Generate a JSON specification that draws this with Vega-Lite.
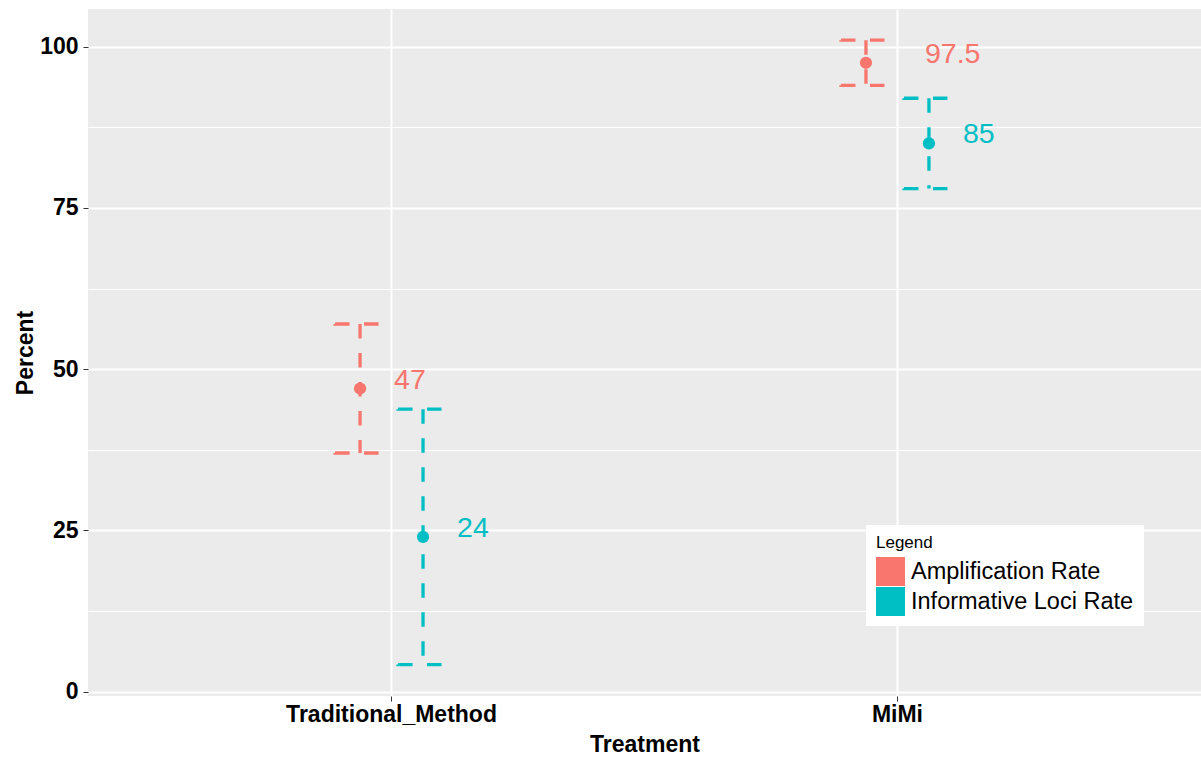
{
  "$schema": "https://vega.github.io/schema/vega-lite/v6.json",
  "autosize": "none",
  "width": 1113,
  "height": 687,
  "padding": {"left": 88, "top": 9, "right": 0, "bottom": 62},
  "background": "white",
  "config": {
    "font": "Liberation Sans",
    "view": {"fill": "#EBEBEB", "stroke": null}
  },
  "data": {
    "values": [
      {"Treatment": "Traditional_Method", "Series": "Amplification Rate", "value": 47, "lower": 37, "upper": 57, "label": "47"},
      {"Treatment": "Traditional_Method", "Series": "Informative Loci Rate", "value": 24, "lower": 4.2, "upper": 43.8, "label": "24"},
      {"Treatment": "MiMi", "Series": "Amplification Rate", "value": 97.5, "lower": 94, "upper": 101, "label": "97.5"},
      {"Treatment": "MiMi", "Series": "Informative Loci Rate", "value": 85, "lower": 78, "upper": 92, "label": "85"}
    ]
  },
  "encoding": {
    "x": {
      "field": "Treatment",
      "type": "nominal",
      "sort": ["Traditional_Method", "MiMi"],
      "scale": {"type": "band", "paddingInner": 0.751, "paddingOuter": 0.4755},
      "axis": {
        "title": "Treatment",
        "labelAngle": 0,
        "labelLimit": 500,
        "bandPosition": 0.5,
        "grid": true,
        "gridColor": "white",
        "gridWidth": 2,
        "domain": false,
        "ticks": true,
        "tickSize": 5,
        "tickColor": "#333333",
        "tickWidth": 1,
        "labelFontSize": 23,
        "labelFontWeight": "bold",
        "labelColor": "black",
        "labelPadding": 2.5,
        "titleFontSize": 23,
        "titleFontWeight": "bold",
        "titleColor": "black",
        "titlePadding": 7
      }
    },
    "xOffset": {
      "field": "Series",
      "type": "nominal",
      "scale": {"domain": ["Amplification Rate", "Informative Loci Rate"], "paddingInner": 0, "paddingOuter": 0}
    },
    "color": {
      "field": "Series",
      "type": "nominal",
      "scale": {"domain": ["Amplification Rate", "Informative Loci Rate"], "range": ["#F8766D", "#00BFC4"]},
      "legend": {
        "orient": "none",
        "legendX": 778,
        "legendY": 516,
        "title": "Legend",
        "titleFontSize": 17,
        "titleFontWeight": "normal",
        "titleColor": "black",
        "titlePadding": 5,
        "labelFontSize": 23.5,
        "labelColor": "black",
        "labelOffset": 6,
        "labelLimit": 400,
        "symbolType": "square",
        "symbolSize": 841,
        "symbolStrokeWidth": 0,
        "symbolOpacity": 1,
        "symbolDash": [],
        "fillColor": "white",
        "padding": 10,
        "rowPadding": 1,
        "encode": {
          "symbols": {
            "update": {
              "fill": {"scale": "color", "field": "value"},
              "stroke": {"value": "transparent"},
              "strokeWidth": {"value": 0},
              "opacity": {"value": 1}
            }
          }
        }
      }
    }
  },
  "layer": [
    {
      "mark": {"type": "rule", "strokeWidth": 3.3, "strokeDash": [14.5, 14.5], "opacity": 1},
      "encoding": {
        "y": {
          "field": "upper",
          "type": "quantitative",
          "title": "Percent",
          "scale": {"domain": [-0.67, 105.84], "nice": false, "zero": false},
          "axis": {
            "values": [0, 12.5, 25, 37.5, 50, 62.5, 75, 87.5, 100],
            "labelExpr": "datum.value % 25 === 0 ? format(datum.value, 'd') : ''",
            "labelOverlap": false,
            "grid": true,
            "gridColor": "white",
            "gridWidth": {"condition": {"test": "datum.value % 25 === 0", "value": 2}, "value": 1},
            "domain": false,
            "tickSize": 5,
            "tickColor": "#333333",
            "tickWidth": 1,
            "tickOpacity": {"condition": {"test": "datum.value % 25 === 0", "value": 1}, "value": 0},
            "labelFontSize": 23,
            "labelFontWeight": "bold",
            "labelColor": "black",
            "labelPadding": 5,
            "titleFontSize": 23,
            "titleFontWeight": "bold",
            "titleColor": "black",
            "titleBaseline": "alphabetic",
            "titlePadding": 7.6
          }
        },
        "y2": {"field": "lower"}
      }
    },
    {
      "mark": {"type": "tick", "size": 50, "thickness": 0.01, "filled": false, "strokeWidth": 3.3, "strokeDash": [14.5, 14.5, 14.5, 56.5], "opacity": 1},
      "encoding": {
        "y": {"field": "upper", "type": "quantitative", "title": "Percent", "scale": {"domain": [-0.67, 105.84], "nice": false, "zero": false}}
      }
    },
    {
      "mark": {"type": "tick", "size": 50, "thickness": 0.01, "filled": false, "strokeWidth": 3.3, "strokeDash": [14.5, 14.5, 14.5, 56.5], "opacity": 1},
      "encoding": {
        "y": {"field": "lower", "type": "quantitative", "title": "Percent", "scale": {"domain": [-0.67, 105.84], "nice": false, "zero": false}}
      }
    },
    {
      "mark": {"type": "point", "filled": true, "size": 150, "opacity": 1},
      "encoding": {
        "y": {"field": "value", "type": "quantitative", "title": "Percent", "scale": {"domain": [-0.67, 105.84], "nice": false, "zero": false}}
      }
    },
    {
      "transform": [{"filter": "length(datum.label) <= 2"}],
      "mark": {"type": "text", "align": "left", "baseline": "alphabetic", "dx": 34, "fontSize": 28.5},
      "encoding": {
        "y": {"field": "value", "type": "quantitative", "title": "Percent", "scale": {"domain": [-0.67, 105.84], "nice": false, "zero": false}},
        "text": {"field": "label"}
      }
    },
    {
      "transform": [{"filter": "length(datum.label) > 2"}],
      "mark": {"type": "text", "align": "left", "baseline": "alphabetic", "dx": 59, "fontSize": 28.5},
      "encoding": {
        "y": {"field": "value", "type": "quantitative", "title": "Percent", "scale": {"domain": [-0.67, 105.84], "nice": false, "zero": false}},
        "text": {"field": "label"}
      }
    }
  ]
}
